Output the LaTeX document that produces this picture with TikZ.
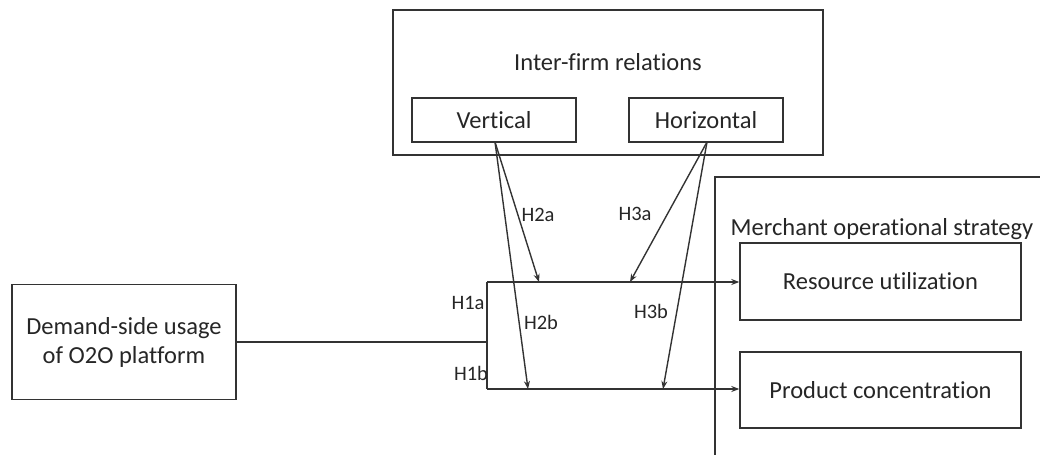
\documentclass[tikz,border=0pt]{standalone}
\usepackage{fontspec}
\setmainfont{Carlito}[Ligatures={NoCommon,NoRequired,NoContextual}]
\usetikzlibrary{arrows.meta}
\definecolor{ln}{HTML}{333333}
\definecolor{tx}{HTML}{262626}
\begin{document}
\begin{tikzpicture}[x=1pt,y=-1pt,
  box/.style={draw=ln,line width=1.4pt,inner sep=0pt,fill=none},
  big/.style={font=\fontsize{24.5}{29}\selectfont,text=tx},
  hlab/.style={font=\fontsize{20.5}{24}\selectfont,text=tx,inner sep=0pt},
  conn/.style={draw=ln,line width=1.4pt},
  arr/.style={conn,-{Stealth[length=8pt,width=6pt]}}]
\useasboundingbox (0,0) rectangle (1040,455);
% Inter-firm relations
\node[box,minimum width=430pt,minimum height=145pt] (inter) at (608,82.5) {};
\node[big] (intert) at (608,62) {Inter-firm relations};
\node[box,big,minimum width=164pt,minimum height=44pt] (vert) at (494,120) {Vertical};
\node[box,big,minimum width=154pt,minimum height=44pt] (hori) at (706,120) {Horizontal};
% Merchant operational strategy
\coordinate (m1) at (1040,177);
\coordinate (m2) at (715,177);
\coordinate (m3) at (715,455);
\draw[conn] (m1) -- (m2) -- (m3);
\node[big] (mert) at (882,229) {Merchant operational strategy};
\node[box,big,minimum width=281pt,minimum height=77pt] (res) at (880.5,281.5) {Resource utilization};
\node[box,big,minimum width=281pt,minimum height=76pt] (prod) at (880.5,390) {Product concentration};
% Demand
\node[box,big,minimum width=224pt,minimum height=115pt,align=center] (dem) at (124,342) {Demand-side usage\\of O2O platform};
% bracket
\coordinate (j) at (487,342);
\coordinate (ja) at (487,282);
\coordinate (jb) at (487,389);
\draw[conn] (dem.east) -- (j);
\draw[conn] (ja) -- (jb);
\draw[arr] (ja) -- (res.west |- ja);
\draw[arr] (jb) -- (prod.west |- jb);
% moderation arrows
\coordinate (t2a) at (539,282);
\coordinate (t2b) at (528,389);
\coordinate (t3a) at (630,282);
\coordinate (t3b) at (663,389);
\coordinate (sv) at (495,142);
\coordinate (sh) at (707,142);
\draw[arr] (sv) -- (t2a);
\draw[arr] (sv) -- (t2b);
\draw[arr] (sh) -- (t3a);
\draw[arr] (sh) -- (t3b);
% labels
\node[hlab] (l2a) at (538,215) {H2a};
\node[hlab] (l3a) at (635,214) {H3a};
\node[hlab] (l1a) at (468,303) {H1a};
\node[hlab] (l2b) at (541,322) {H2b};
\node[hlab] (l3b) at (651,311) {H3b};
\node[hlab] (l1b) at (471,373) {H1b};
\end{tikzpicture}
\end{document}
